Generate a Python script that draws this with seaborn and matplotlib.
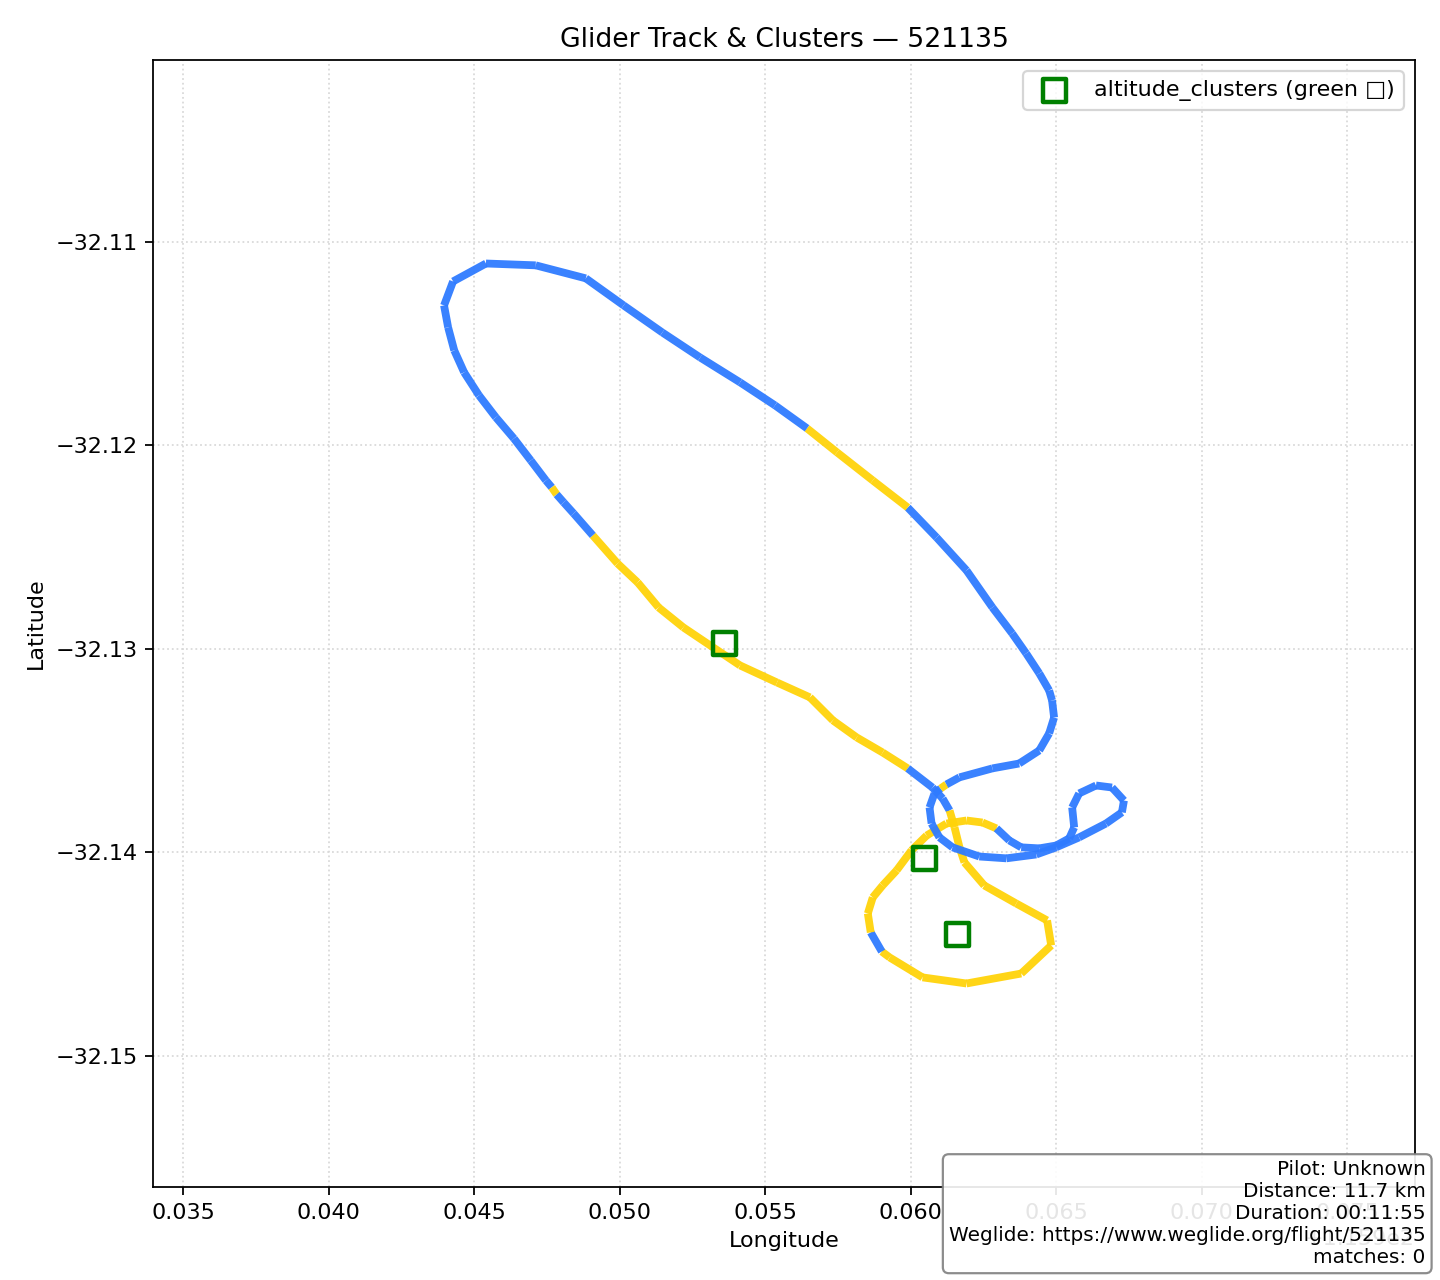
import numpy as np
import matplotlib
matplotlib.use("Agg")
import matplotlib.pyplot as plt
from matplotlib.collections import LineCollection
import seaborn as sns

# ---- data ----
track_lon = [
    115.94908, 115.94993, 115.95062, 115.95134, 115.95219, 115.95322, 115.95414, 115.95541,
    115.95654, 115.95733, 115.95815, 115.95904, 115.95990, 115.96075, 115.96110, 115.96134,
    115.96151, 115.96168, 115.96185, 115.96253, 115.96363, 115.96469, 115.96483, 115.96380,
    115.96192, 115.96041, 115.95928, 115.95901, 115.95863, 115.95853, 115.95870, 115.95904,
    115.95952, 115.96003, 115.96055, 115.96123, 115.96192, 115.96247, 115.96295, 115.96339,
    115.96380, 115.96442, 115.96500, 115.96545, 115.96562, 115.96555, 115.96579, 115.96637,
    115.96692, 115.96733, 115.96726, 115.96671, 115.96579, 115.96500, 115.96432, 115.96329,
    115.96236, 115.96144, 115.96099, 115.96072, 115.96065, 115.96082, 115.96103, 115.96123,
    115.96168, 115.96281, 115.96373, 115.96442, 115.96476, 115.96493, 115.96486, 115.96476,
    115.96442, 115.96397, 115.96349, 115.96281, 115.96192, 115.96089, 115.95990, 115.95870,
    115.95747, 115.95644, 115.95534, 115.95414, 115.95277, 115.95147, 115.95014, 115.94884,
    115.94712, 115.94541, 115.94428, 115.94397, 115.94411, 115.94432, 115.94466, 115.94517,
    115.94575, 115.94637, 115.94695, 115.94747, 115.94767, 115.94784, 115.94808, 115.94842,
    115.94908,
]
track_lat = [
    -32.12442, -32.12580, -32.12673, -32.12796, -32.12894, -32.12993, -32.13081, -32.13165,
    -32.13238, -32.13351, -32.13435, -32.13509, -32.13587, -32.13681, -32.13735, -32.13794,
    -32.13877, -32.13975, -32.14049, -32.14162, -32.14251, -32.14334, -32.14457, -32.14595,
    -32.14644, -32.14614, -32.14516, -32.14487, -32.14393, -32.14300, -32.14221, -32.14162,
    -32.14088, -32.13990, -32.13917, -32.13858, -32.13843, -32.13853, -32.13882, -32.13941,
    -32.13975, -32.13980, -32.13966, -32.13931, -32.13877, -32.13779, -32.13710, -32.13671,
    -32.13681, -32.13745, -32.13803, -32.13858, -32.13926, -32.13975, -32.14010, -32.14029,
    -32.14020, -32.13975, -32.13926, -32.13858, -32.13779, -32.13710, -32.13686, -32.13666,
    -32.13631, -32.13587, -32.13563, -32.13499, -32.13415, -32.13337, -32.13253, -32.13204,
    -32.13120, -32.13022, -32.12924, -32.12796, -32.12614, -32.12452, -32.12305, -32.12172,
    -32.12034, -32.11916, -32.11803, -32.11690, -32.11568, -32.11445, -32.11312, -32.11179,
    -32.11115, -32.11106, -32.11194, -32.11312, -32.11420, -32.11533, -32.11641, -32.11754,
    -32.11862, -32.11966, -32.12074, -32.12172, -32.12206, -32.12241, -32.12280, -32.12334,
    -32.12442,
]
# 1 = climbing segment (gold), 0 = gliding segment (blue); one flag per segment
segment_climb = (
    [1] * 12 + [0] * 3 + [1] * 12 + [0] * 1 + [1] * 10 + [0] * 24 +
    [1] * 1 + [0] * 15 + [1] * 3 + [0] * 19 + [1] * 1 + [0] * 3
)

cluster_lon = [115.95360, 115.96048, 115.96161]
cluster_lat = [-32.12973, -32.14029, -32.14403]

flight_id = "521135"
pilot = "Unknown"
distance_km = 11.7
duration = "00:11:55"
matches = 0

GLIDE_COLOR = "#2f7bff"
CLIMB_COLOR = "#ffd30a"

# ---- figure ----
fig, ax = plt.subplots(figsize=(9, 8), dpi=160)
fig.subplots_adjust(left=0.10625, right=0.98264, bottom=0.07266, top=0.95313)

lon = np.asarray(track_lon)
lat = np.asarray(track_lat)
pts = np.column_stack([lon, lat])
segs = np.stack([pts[:-1], pts[1:]], axis=1)
cols = [CLIMB_COLOR if c else GLIDE_COLOR for c in segment_climb]
lc = LineCollection(segs, colors=cols, linewidths=3.5, alpha=0.95, zorder=2)
ax.add_collection(lc)

sns.scatterplot(x=cluster_lon, y=cluster_lat, marker="s", s=105, color="green",
                linewidth=2, label="altitude_clusters (green \u25a1)", ax=ax, zorder=3)
pc = ax.collections[-1]
pc.set_facecolor("none")
pc.set_edgecolor("green")
pc.set_linewidth(2)

pad = 0.01
ax.set_xlim(lon.min() - pad, lon.max() + pad)
ax.set_ylim(lat.min() - pad, lat.max() + pad)

ax.grid(True, linestyle=":", color="0.85", linewidth=0.8)
ax.set_axisbelow(True)
ax.set_title(f"Glider Track & Clusters \u2014 {flight_id}", fontsize=12)
ax.set_xlabel("Longitude", fontsize=10)
ax.set_ylabel("Latitude", fontsize=10)
ax.legend(loc="upper right", fontsize=10)

info = (f"Pilot: {pilot}\nDistance: {distance_km} km\nDuration: {duration}\n"
        f"Weglide: https://www.weglide.org/flight/{flight_id}\nmatches: {matches}")
fig.text(0.99, 0.01, info, ha="right", va="bottom", fontsize=9,
         bbox=dict(boxstyle="round", facecolor="white", edgecolor="gray", alpha=0.9))

fig.savefig("out.png", dpi=160)
